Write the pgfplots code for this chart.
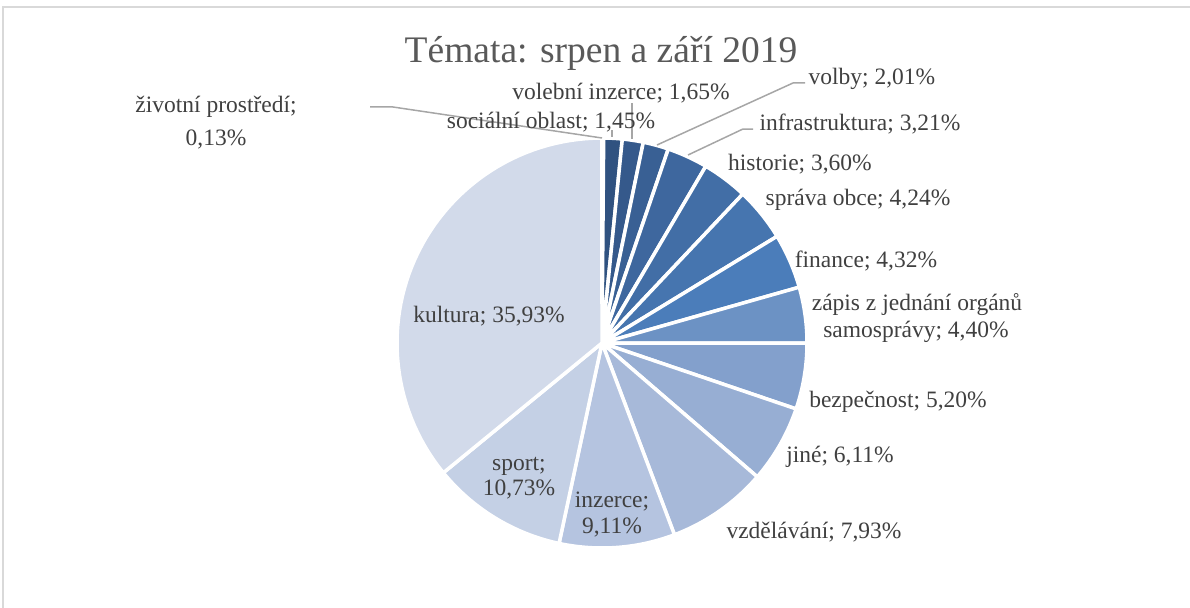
\documentclass[border=0pt]{standalone}
\usepackage{pgfplots}
\pgfplotsset{compat=1.18}
\usepackage{fontspec}
\setmainfont{Liberation Serif}
\definecolor{c1}{RGB}{44,74,115}
\definecolor{c2}{RGB}{48,82,128}
\definecolor{c3}{RGB}{53,89,139}
\definecolor{c4}{RGB}{57,96,148}
\definecolor{c5}{RGB}{62,103,158}
\definecolor{c6}{RGB}{66,110,166}
\definecolor{c7}{RGB}{70,117,175}
\definecolor{c8}{RGB}{75,125,186}
\definecolor{c9}{RGB}{108,146,196}
\definecolor{c10}{RGB}{131,160,204}
\definecolor{c11}{RGB}{151,174,211}
\definecolor{c12}{RGB}{167,185,217}
\definecolor{c13}{RGB}{181,196,224}
\definecolor{c14}{RGB}{196,208,229}
\definecolor{c15}{RGB}{210,218,234}
\definecolor{labc}{RGB}{64,64,64}
\definecolor{titc}{RGB}{89,89,89}
\definecolor{leadc}{RGB}{166,166,166}
\definecolor{bordc}{RGB}{217,217,217}
\newcommand\lab{\fontsize{23.5bp}{26bp}\selectfont}
% slice: start percent, end percent (cumulative), colour
\newcommand\slice[3]{%
  \addplot[fill=#3, draw=white, line width=3.5bp, line join=round, domain=#1:#2, samples=60, variable=\t]
    ({602+205*sin(3.6*t)},{343-205*cos(3.6*t)}) -- (axis cs:602,343) -- cycle;}
\begin{document}
\begin{tikzpicture}
\begin{axis}[at={(0,0)}, anchor=south west, scale only axis,
  width=1190bp, height=608bp, xmin=0, xmax=1190, ymin=0, ymax=608,
  y dir=reverse, hide axis, clip=false]
% percentages: 0.13, 1.45, 1.65, 2.01, 3.21, 3.60, 4.24, 4.32, 4.40, 5.20, 6.11, 7.93, 9.11, 10.73, 35.93
\slice{0}{0.13}{c1}
\slice{0.13}{1.58}{c2}
\slice{1.58}{3.23}{c3}
\slice{3.23}{5.24}{c4}
\slice{5.24}{8.45}{c5}
\slice{8.45}{12.05}{c6}
\slice{12.05}{16.29}{c7}
\slice{16.29}{20.61}{c8}
\slice{20.61}{25.01}{c9}
\slice{25.01}{30.21}{c10}
\slice{30.21}{36.32}{c11}
\slice{36.32}{44.25}{c12}
\slice{44.25}{53.36}{c13}
\slice{53.36}{64.09}{c14}
\slice{64.09}{100}{c15}
% leader lines
\addplot[leadc, line width=1.5bp, no marks] coordinates {(370,107) (393,107) (602,138)};
\addplot[leadc, line width=1.5bp, no marks] coordinates {(612,130) (612,137)};
\addplot[leadc, line width=1.5bp, no marks] coordinates {(632,103) (632,139)};
\addplot[leadc, line width=1.5bp, no marks] coordinates {(805,83) (793,83) (657,145)};
\addplot[leadc, line width=1.5bp, no marks] coordinates {(753,129) (743,129) (688,155)};
% border
\draw[bordc, line width=2bp] (axis cs:3.5,608) -- (axis cs:3.5,7.5) -- (axis cs:1190,7.5);
% title
\node[anchor=base, text=titc, font=\fontsize{37.5bp}{40bp}\selectfont] at (axis cs:601,63) {Témata: srpen a září 2019};
% labels
\begin{scope}[every node/.style={anchor=base, text=labc, font=\lab, inner sep=0pt}]
\node at (axis cs:216,112) {životní prostředí;};
\node at (axis cs:216,145) {0,13\%};
\node at (axis cs:621,99) {volební inzerce; 1,65\%};
\node at (axis cs:551,128) {sociální oblast; 1,45\%};
\node at (axis cs:872,85) {volby; 2,01\%};
\node at (axis cs:860,130) {infrastruktura; 3,21\%};
\node at (axis cs:800,170) {historie; 3,60\%};
\node at (axis cs:858,205) {správa obce; 4,24\%};
\node at (axis cs:866,267) {finance; 4,32\%};
\node at (axis cs:917,310) {zápis z jednání orgánů};
\node at (axis cs:916,337) {samosprávy; 4,40\%};
\node at (axis cs:898,407) {bezpečnost; 5,20\%};
\node at (axis cs:840,462) {jiné; 6,11\%};
\node at (axis cs:814,538) {vzdělávání; 7,93\%};
\node at (axis cs:612,507) {inzerce;};
\node at (axis cs:612,533) {9,11\%};
\node at (axis cs:519,470) {sport;};
\node at (axis cs:519,495) {10,73\%};
\node at (axis cs:489,322) {kultura; 35,93\%};
\end{scope}
\end{axis}
\pgfresetboundingbox
\path (0,0) rectangle (1190bp,608bp);
\end{tikzpicture}
\end{document}
